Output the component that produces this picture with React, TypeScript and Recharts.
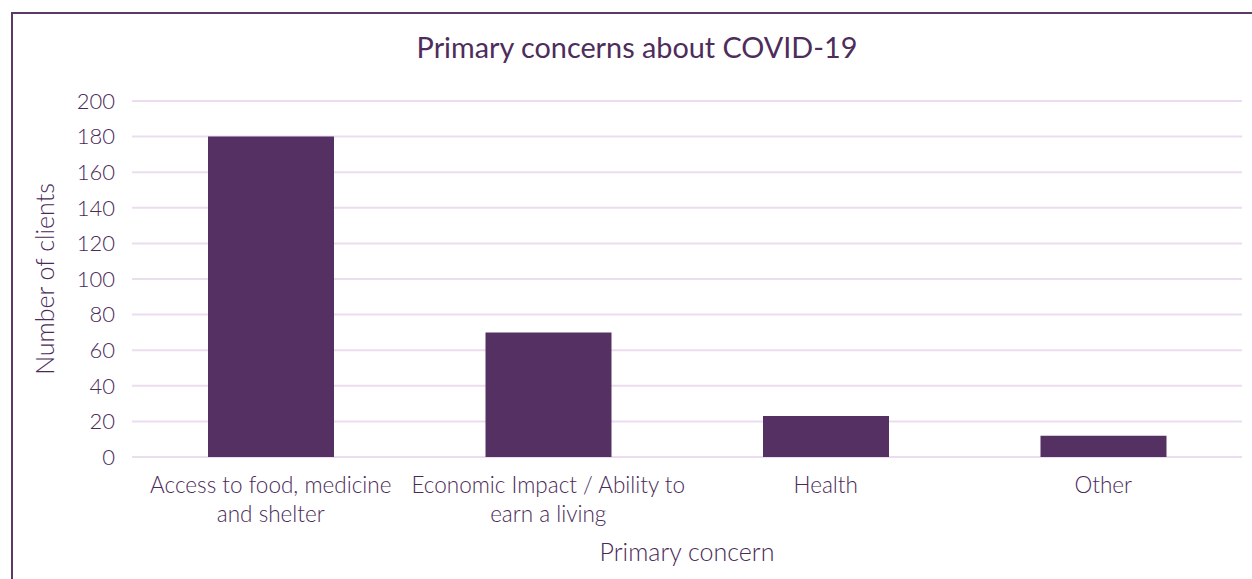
import { BarChart, Bar, XAxis, YAxis, CartesianGrid } from 'recharts';

const categories = [
  'Access to food, medicine and shelter',
  'Economic Impact / Ability to earn a living',
  'Health',
  'Other',
];
const tickLines = [
  ['Access to food, medicine', 'and shelter'],
  ['Economic Impact / Ability to', 'earn a living'],
  ['Health'],
  ['Other'],
];
const clients = [180, 70, 23, 12];
const yTicks = [0, 20, 40, 60, 80, 100, 120, 140, 160, 180, 200];

const data = categories.map((name, i) => ({ name, clients: clients[i] }));

const textColor = '#4a2a58';
const font = 'Lato, "Open Sans", sans-serif';

function CategoryTick(props: any) {
  const { x, y, index } = props;
  const lines = tickLines[index] || [props.payload.value];
  return (
    <text x={x} y={y} textAnchor="middle" fill={textColor} fontSize={22.5} fontFamily={font} fontWeight={300}>
      {lines.map((line: string, i: number) => (
        <tspan key={i} x={x} dy={i === 0 ? 28 : 29}>
          {line}
        </tspan>
      ))}
    </text>
  );
}

export default function App() {
  return (
    <div style={{ position: 'absolute', left: 0, top: 0, width: 1252, height: 579, overflow: 'hidden', background: '#fff' }}>
      <div
        style={{
          position: 'absolute',
          left: 11,
          top: 12,
          width: 1400,
          height: 700,
          borderTop: '2px solid #5b3a68',
          borderLeft: '2px solid #5b3a68',
        }}
      />
      <div
        style={{
          position: 'absolute',
          left: 0,
          top: 30,
          width: 1274,
          textAlign: 'center',
          fontFamily: font,
          fontSize: 28.8,
          color: '#4e2c5c',
        }}
      >
        Primary concerns about COVID-19
      </div>
      <div style={{ position: 'absolute', left: 0, top: 0 }}>
        <BarChart width={1252} height={579} data={data} margin={{ top: 101, right: 10, bottom: 0, left: 0 }}>
          <CartesianGrid vertical={false} stroke="#ecdcef" strokeWidth={2} />
          <XAxis
            dataKey="name"
            axisLine={false}
            tickLine={false}
            interval={0}
            height={122}
            tick={<CategoryTick />}
            label={{
              value: 'Primary concern',
              position: 'insideBottom',
              offset: 18,
              fill: textColor,
              fontSize: 25,
              fontFamily: font,
              fontWeight: 300,
            }}
          />
          <YAxis
            width={132}
            domain={[0, 200]}
            ticks={yTicks}
            axisLine={false}
            tickLine={false}
            tickSize={0}
            tickMargin={17}
            tick={{ fill: textColor, fontSize: 22, fontFamily: font, fontWeight: 300 }}
            label={{
              value: 'Number of clients',
              angle: -90,
              position: 'insideLeft',
              offset: 45,
              fill: textColor,
              fontSize: 25,
              fontFamily: font,
              fontWeight: 300,
              style: { textAnchor: 'middle' },
            }}
          />
          <Bar dataKey="clients" fill="#553163" barSize={126} isAnimationActive={false} />
        </BarChart>
      </div>
    </div>
  );
}
